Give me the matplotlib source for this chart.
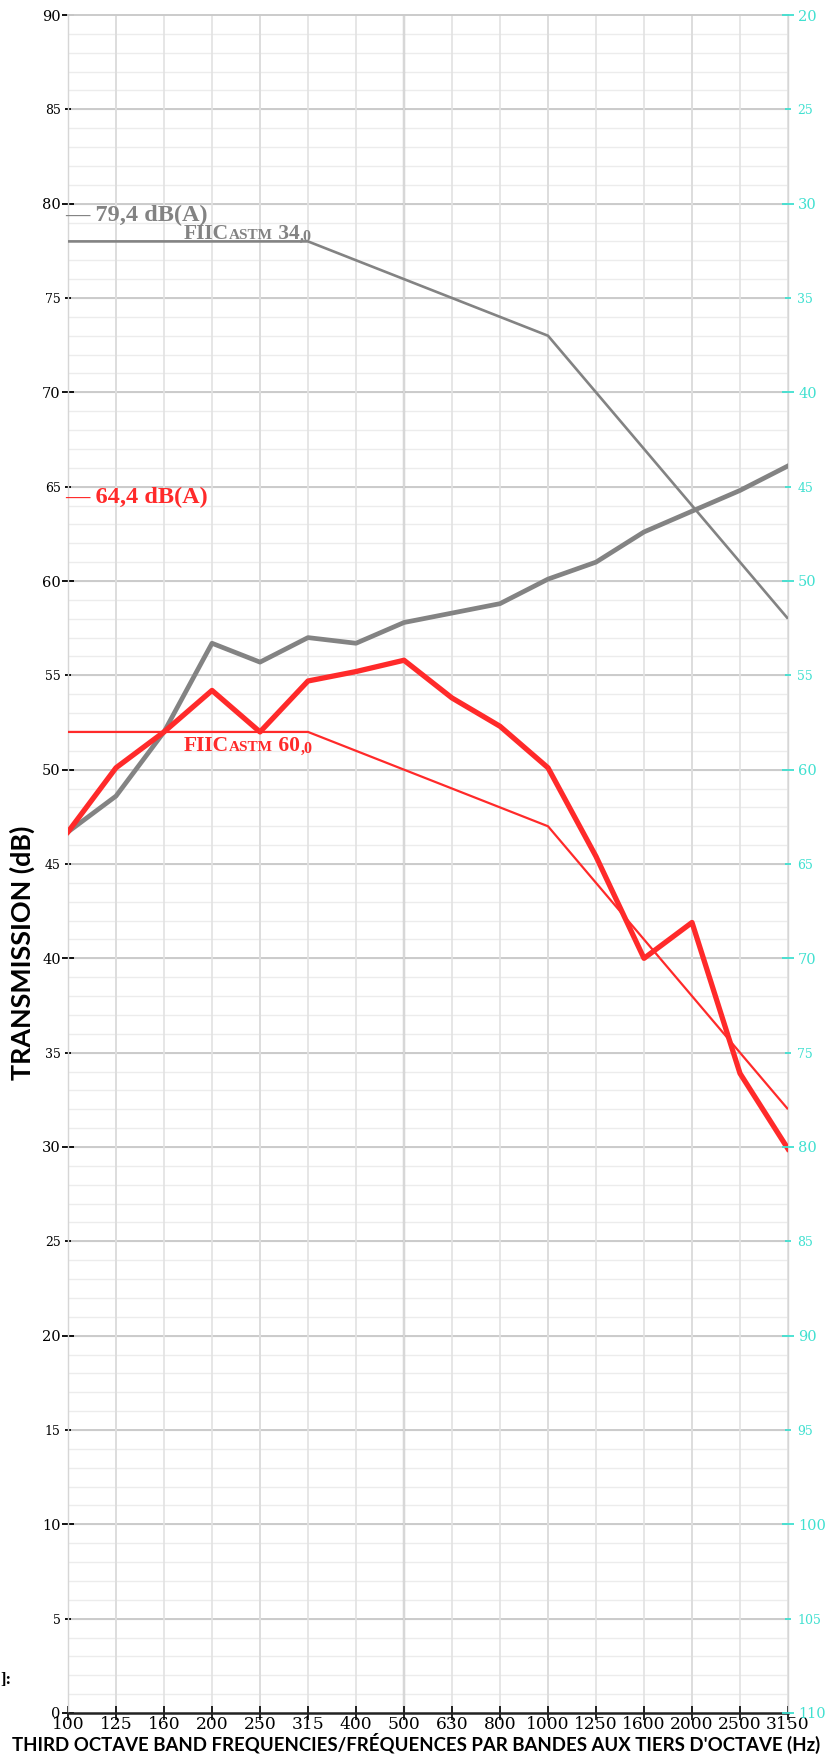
import matplotlib
matplotlib.use("Agg")
import matplotlib.pyplot as plt
import numpy as np

# third octave bands
freqs = [100, 125, 160, 200, 250, 315, 400, 500, 630, 800,
         1000, 1250, 1600, 2000, 2500, 3150]
freq_labels = [str(f) for f in freqs]

# measured curves (dB)
gray_meas = [46.7, 48.6, 52.0, 56.7, 55.7, 57.0, 56.7, 57.8, 58.3, 58.8,
             60.1, 61.0, 62.6, 63.7, 64.8, 66.1]
red_meas = [46.7, 50.1, 52.0, 54.2, 52.0, 54.7, 55.2, 55.8, 53.8, 52.3,
            50.1, 45.4, 40.0, 41.9, 33.9, 29.9]

# reference (contour) curves
gray_ref = [78, 78, 78, 78, 78, 78, 77, 76, 75, 74, 73, 70, 67, 64, 61, 58]
red_ref = [52, 52, 52, 52, 52, 52, 51, 50, 49, 48, 47, 44, 41, 38, 35, 32]

gray_dba = "79,4"
red_dba = "64,4"
gray_fiic = ("34", ",0")
red_fiic = ("60", ",0")

GRAY = "#838383"
RED = "#ff2a2a"
CYAN = "#40e0d0"
SERIF = "Liberation Serif"
TICKFONT = "DejaVu Serif"

W, H = 840, 1763
fig = plt.figure(figsize=(W / 100, H / 100), dpi=100)
ax = fig.add_axes([68 / W, 50 / H, 720 / W, 1698 / H])

x = np.arange(len(freqs))
ax.set_xlim(0, len(freqs) - 1)
ax.set_ylim(0, 90)

# horizontal grid: 1 dB light, 5 dB darker
ax.hlines(np.arange(1, 90, 1), 0, len(freqs) - 1, color="#ececec", lw=1.0, zorder=0)
ax.hlines(np.arange(5, 90, 5), 0, len(freqs) - 1, color="#cbcbcb", lw=1.4, zorder=0.2)

# vertical grid
ax.set_xticks(x)
ax.set_xticklabels(freq_labels, fontfamily=TICKFONT, fontsize=12.3)
ax.grid(which="major", axis="x", color="#e2e2e2", lw=1.2, zorder=0)
for f in (125, 250, 1000, 2000):
    ax.axvline(freqs.index(f), color="#c6c6c6", lw=1.4, zorder=0.5)
ax.axvline(freqs.index(500), color="#a2a2a2", lw=1.6, zorder=0.5)
ax.set_axisbelow(True)

# left ticks: 10s long + bigger, 5s short + smaller
ax.set_yticks(np.arange(0, 91, 10))
ax.set_yticklabels([str(v) for v in range(0, 91, 10)], fontfamily=TICKFONT)
ax.set_yticks(np.arange(5, 90, 10), minor=True)
ax.set_yticklabels([str(v) for v in range(5, 90, 10)], minor=True, fontfamily=TICKFONT)
ax.tick_params(axis="y", which="major", direction="inout", length=8.6, width=1.3,
               pad=1.0, labelsize=10.5, color="black")
ax.tick_params(axis="y", which="minor", direction="inout", length=4.3, width=1.3,
               pad=3.2, labelsize=9, color="black")
ax.tick_params(axis="x", direction="inout", length=9.5, width=1.2, pad=-2.5, color="black")

for s in ("left", "right"):
    ax.spines[s].set_color("#d6d6d6")
    ax.spines[s].set_linewidth(1.0)
ax.spines["top"].set_color("#cbcbcb")
ax.spines["top"].set_linewidth(1.4)
ax.spines["bottom"].set_color("#222222")
ax.spines["bottom"].set_linewidth(1.8)

# curves
ax.plot(x, gray_ref, color=GRAY, lw=1.9, zorder=3, solid_capstyle="butt")
ax.plot(x, red_ref, color=RED, lw=1.6, zorder=3, solid_capstyle="butt")
ax.plot(x, gray_meas, color=GRAY, lw=3.4, zorder=4, solid_joinstyle="round")
ax.plot(x, red_meas, color=RED, lw=3.8, zorder=5, solid_joinstyle="round")

# right axis (inverted)
ax2 = ax.twinx()
ax2.set_ylim(110, 20)
ax2.set_yticks(np.arange(20, 111, 10))
ax2.set_yticklabels([str(v) for v in range(20, 111, 10)], fontfamily=TICKFONT)
ax2.set_yticks(np.arange(25, 110, 10), minor=True)
ax2.set_yticklabels([str(v) for v in range(25, 110, 10)], minor=True, fontfamily=TICKFONT)
for s in ax2.spines.values():
    s.set_visible(False)
ax2.tick_params(axis="y", which="major", direction="inout", length=8.6, width=1.3,
                pad=3.0, labelsize=10.5, color=CYAN, labelcolor=CYAN)
ax2.tick_params(axis="y", which="minor", direction="inout", length=4.3, width=1.3,
                pad=4.5, labelsize=9, color=CYAN, labelcolor=CYAN)


# dB(A) labels
def dba_label(val, y, color):
    ax.text(-0.06, y, "\u2014 " + val + " dB(A)", color=color, fontsize=17.5,
            fontweight="bold", fontfamily=SERIF, ha="left", va="baseline",
            clip_on=False, zorder=6)


dba_label(gray_dba, 79.08, GRAY)
dba_label(red_dba, 64.15, RED)


# FIIC labels (small caps + lowered decimal)
def fiic_label(vals, y, color):
    kw = dict(color=color, fontweight="bold", fontfamily=SERIF, ha="left",
              va="baseline", zorder=6)
    t = ax.text(2.42, y, "FIIC", fontsize=15.5, **kw)
    t = ax.annotate("ASTM", xy=(1, y), xycoords=(t, "data"), fontsize=11, **kw)
    t = ax.annotate(" " + vals[0], xy=(1, y), xycoords=(t, "data"), fontsize=15.5, **kw)
    ax.annotate(vals[1], xy=(1, y - 0.1), xycoords=(t, "data"), fontsize=11.5, **kw)


fiic_label(gray_fiic, 78.12, GRAY)
fiic_label(red_fiic, 51.0, RED)

# axis titles, sized to the reference widths
ylab = fig.text(22 / W, 1 - 953 / H, "TRANSMISSION (dB)", rotation=90, ha="center",
                va="center", fontsize=15, fontweight="bold", fontfamily="Lato")
xlab = fig.text(416 / W, 1 - 1743 / H,
                "THIRD OCTAVE BAND FREQUENCIES/FR\u00c9QUENCES PAR BANDES AUX TIERS D'OCTAVE (Hz)",
                ha="center", va="center", fontsize=15, fontweight="bold", fontfamily="Lato")
fig.text(0.0, 1 - 1680 / H, "]:", ha="left", va="center", fontsize=12,
         fontweight="bold", fontfamily=SERIF)

r = fig.canvas.get_renderer()
bb = ylab.get_window_extent(r)
ylab.set_fontsize(15 * 255 / bb.height)
bb = xlab.get_window_extent(r)
xlab.set_fontsize(15 * 806 / bb.width)

fig.savefig("out.png", dpi=100)
